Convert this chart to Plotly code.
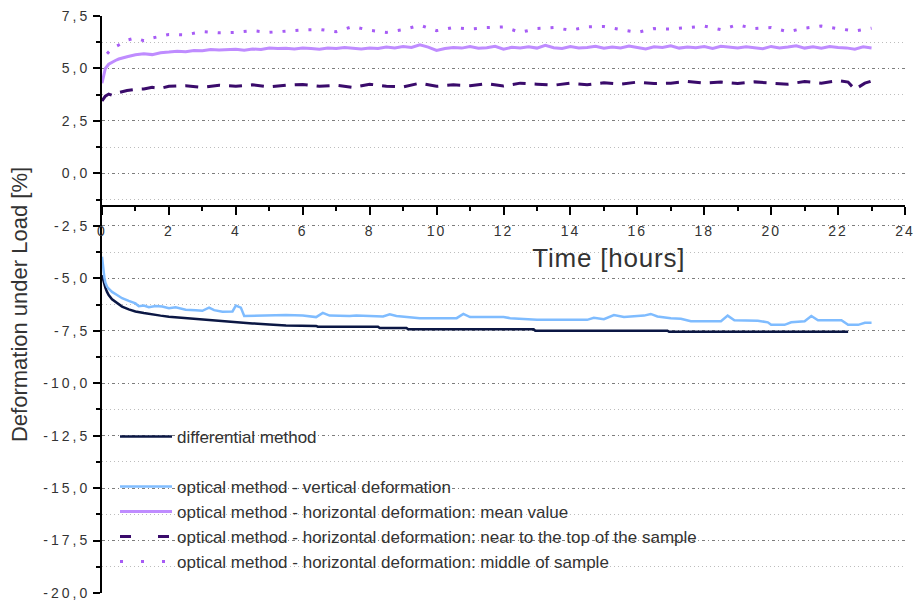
import plotly.graph_objects as go

# ---------------------------------------------------------------- data
# differential method (staircase-like record)
T_DIFF = [0, 0.05, 0.1, 0.15, 0.2, 0.3, 0.4, 0.5, 0.6, 0.8, 1.0, 1.25, 1.5, 1.75,
          2.0, 2.5, 3.0, 3.5, 4.0, 4.5, 5.0, 5.5, 6.4, 6.45, 8.25, 8.3, 9.1, 9.15,
          12.9, 12.95, 16.9, 16.95, 22.3]
DIFF = [-4.85, -5.2, -5.45, -5.65, -5.8, -6.0, -6.12, -6.25, -6.35, -6.48, -6.58,
        -6.66, -6.73, -6.78, -6.83, -6.9, -6.97, -7.03, -7.1, -7.15, -7.2, -7.25,
        -7.27, -7.31, -7.31, -7.37, -7.37, -7.43, -7.43, -7.5, -7.5, -7.55, -7.55]

# optical method - vertical deformation
T_VERT = [0, 0.03, 0.07, 0.1, 0.15, 0.2, 0.3, 0.45, 0.6, 0.8, 1.0, 1.1, 1.25, 1.4,
          1.6, 1.8, 2.0, 2.2, 2.5, 2.8, 3.0, 3.2, 3.35, 3.6, 3.9, 4.0, 4.15, 4.25,
          5.0, 5.5, 6.0, 6.4, 6.6, 6.8, 7.4, 7.6, 8.4, 8.6, 8.8, 9.3, 9.5, 10.6,
          10.8, 11.0, 12.0, 12.2, 13.0, 14.5, 14.7, 15.0, 15.3, 15.6, 16.2, 16.4,
          16.6, 17.0, 17.3, 17.6, 18.0, 18.5, 18.7, 18.9, 19.6, 19.9, 20.0, 20.4,
          20.6, 21.0, 21.2, 21.4, 21.9, 22.1, 22.3, 22.6, 22.8, 23.0]
VERT = [-3.97, -4.5, -4.95, -5.2, -5.4, -5.5, -5.65, -5.8, -5.95, -6.08, -6.2,
        -6.33, -6.3, -6.38, -6.32, -6.35, -6.43, -6.38, -6.5, -6.52, -6.55, -6.4,
        -6.52, -6.6, -6.58, -6.3, -6.4, -6.8, -6.78, -6.75, -6.78, -6.85, -6.65,
        -6.78, -6.8, -6.77, -6.82, -6.72, -6.8, -6.85, -6.9, -6.9, -6.7, -6.85,
        -6.85, -6.9, -6.98, -6.98, -6.88, -6.95, -6.75, -6.85, -6.78, -6.7, -6.82,
        -6.9, -6.93, -7.05, -7.05, -7.05, -6.78, -7.0, -7.02, -7.1, -7.22, -7.22,
        -7.1, -7.05, -6.8, -7.0, -7.0, -7.0, -7.22, -7.22, -7.12, -7.12]

# optical method - horizontal deformation: mean value
T_MEAN = [0, 0.05, 0.1, 0.2, 0.3, 0.4, 0.5, 0.6, 0.75,
          1.0, 1.25, 1.5, 1.75, 2.0, 2.25, 2.5, 2.75, 3.0, 3.25, 3.5, 3.75,
          4.0, 4.25, 4.5, 4.75, 5.0, 5.25, 5.5, 5.75, 6.0, 6.25, 6.5, 6.75,
          7.0, 7.25, 7.5, 7.75, 8.0, 8.25, 8.5, 8.75, 9.0, 9.25, 9.5, 9.75,
          10.0, 10.25, 10.5, 10.75, 11.0, 11.25, 11.5, 11.75, 12.0, 12.25, 12.5, 12.75,
          13.0, 13.25, 13.5, 13.75, 14.0, 14.25, 14.5, 14.75, 15.0, 15.25, 15.5, 15.75,
          16.0, 16.25, 16.5, 16.75, 17.0, 17.25, 17.5, 17.75, 18.0, 18.25, 18.5, 18.75,
          19.0, 19.25, 19.5, 19.75, 20.0, 20.25, 20.5, 20.75, 21.0, 21.25, 21.5, 21.75,
          22.0, 22.25, 22.5, 22.75, 23.0]
MEAN = [4.3, 4.75, 5.0, 5.2, 5.3, 5.38, 5.45, 5.5, 5.56,
        5.65, 5.7, 5.66, 5.75, 5.78, 5.82, 5.8, 5.86, 5.84, 5.9, 5.88, 5.9,
        5.92, 5.87, 5.93, 5.9, 5.97, 5.95, 5.96, 5.93, 5.98, 5.95, 5.92, 5.97,
        5.95, 6.0, 5.96, 5.93, 5.98, 5.95, 6.02, 5.98, 6.04, 6.0, 6.13, 6.02,
        5.86, 5.95, 6.0, 5.97, 6.05, 5.96, 5.99, 6.06, 5.92, 6.01, 5.98, 6.03,
        5.97, 6.1, 5.99, 5.95, 6.04, 5.98, 6.0, 6.06, 5.96, 6.02, 5.98, 6.07,
        6.0, 5.93, 6.03, 6.0, 6.08, 5.97, 6.02, 5.99, 6.04, 5.95, 6.06, 6.0,
        5.97, 6.03, 6.0, 5.94, 6.05, 5.98, 6.02, 6.08, 5.97, 6.03, 5.96, 6.04,
        6.0, 5.98, 5.92, 6.03, 5.98]

# optical method - horizontal deformation: near to the top of the sample
T_TOP = [0, 0.05, 0.1, 0.2, 0.3, 0.5, 0.75, 1.0, 1.25, 1.5, 1.75,
         2.0, 2.5, 3.0, 3.5, 4.0, 4.5, 5.0, 5.5, 6.0, 6.5, 7.0, 7.5, 8.0, 8.5,
         9.0, 9.5, 10.0, 10.5, 11.0, 11.5, 12.0, 12.5, 13.0, 13.5, 14.0, 14.5,
         15.0, 15.5, 16.0, 16.5, 17.0, 17.5, 18.0, 18.5, 19.0, 19.5, 20.0, 20.5,
         21.0, 21.5, 22.0, 22.3, 22.5, 22.8, 23.0]
TOP = [3.45, 3.55, 3.68, 3.78, 3.72, 3.85, 3.95, 4.0, 4.02, 4.1, 4.05,
       4.15, 4.18, 4.1, 4.2, 4.15, 4.22, 4.12, 4.2, 4.24, 4.15, 4.2, 4.1, 4.25, 4.15,
       4.12, 4.3, 4.15, 4.22, 4.18, 4.28, 4.16, 4.3, 4.25, 4.2, 4.3, 4.22,
       4.32, 4.25, 4.35, 4.28, 4.3, 4.38, 4.3, 4.35, 4.28, 4.36, 4.3, 4.25,
       4.38, 4.3, 4.42, 4.35, 4.0, 4.3, 4.4]

# optical method - horizontal deformation: middle of sample
T_MID = [0.15, 0.3, 0.5, 0.75, 1.0, 1.25, 1.5, 2.0, 2.5, 3.0, 3.5, 4.0, 4.5,
         5.0, 5.5, 6.0, 6.5, 7.0, 7.5, 8.0, 8.5, 9.0, 9.5, 10.0, 10.5, 11.0,
         11.5, 12.0, 12.5, 13.0, 13.5, 14.0, 14.5, 15.0, 15.5, 16.0, 16.5, 17.0,
         17.5, 18.0, 18.5, 19.0, 19.5, 20.0, 20.5, 21.0, 21.5, 22.0, 22.5, 23.0]
MID = [5.7, 5.95, 6.12, 6.35, 6.45, 6.32, 6.45, 6.62, 6.6, 6.76, 6.7, 6.72, 6.8,
       6.72, 6.78, 6.84, 6.86, 6.75, 7.0, 6.82, 6.72, 6.85, 7.06, 6.8, 6.95, 6.88,
       6.95, 6.98, 6.72, 6.9, 6.95, 6.82, 6.98, 7.0, 6.85, 6.72, 6.9, 6.88,
       6.95, 7.02, 6.85, 7.08, 6.9, 6.95, 6.75, 6.92, 7.02, 6.9, 6.78, 6.92]

NAMES = ["differential method",
         "optical method - vertical deformation",
         "optical method - horizontal deformation: mean value",
         "optical method - horizontal deformation: near to the top of the sample",
         "optical method - horizontal deformation: middle of sample"]

# axis ticks
X_TICKS = [0, 2, 4, 6, 8, 10, 12, 14, 16, 18, 20, 22, 24]
X_TICK_LABELS = ["0", "2", "4", "6", "8", "10", "12", "14", "16", "18", "20", "22", "24"]
Y_TICKS = [7.5, 5.0, 2.5, 0.0, -2.5, -5.0, -7.5, -10.0, -12.5, -15.0, -17.5, -20.0]
Y_TICK_LABELS = ["7,5", "5,0", "2,5", "0,0", "-2,5", "-5,0", "-7,5", "-10,0",
                 "-12,5", "-15,0", "-17,5", "-20,0"]

# ---------------------------------------------------------------- style
NAVY = "#0b1744"
SKY = "#7fbcff"
LAVENDER = "#bf8cff"
PLUM = "#3a0b6b"
VIOLET = "#a75cf5"
TEXT = "#333333"
FONT = "Arial, Liberation Sans, sans-serif"

Y_RANGE = [-20, 7.5]
X_AXIS_AT = -1.56          # value on the y scale where the time axis crosses

# legend rows: vertical centre of each entry, in paper units
LEGEND_ROWS = [0.2704, 0.1837, 0.1404, 0.0971, 0.0537]
LEGEND_X = 0.0162

fig = go.Figure()

fig.add_trace(go.Scatter(x=T_DIFF, y=DIFF, mode="lines", name=NAMES[0],
                         line=dict(color=NAVY, width=2.5), legend="legend"))
fig.add_trace(go.Scatter(x=T_VERT, y=VERT, mode="lines", name=NAMES[1],
                         line=dict(color=SKY, width=2.5), legend="legend2"))
fig.add_trace(go.Scatter(x=T_MEAN, y=MEAN, mode="lines", name=NAMES[2],
                         line=dict(color=LAVENDER, width=3), legend="legend3"))

# dashed / dotted records: drawn with a short pattern, listed with a wider one
fig.add_trace(go.Scatter(x=T_TOP, y=TOP, mode="lines", name=NAMES[3],
                         line=dict(color=PLUM, width=3, dash="13px,9px"),
                         showlegend=False))
fig.add_trace(go.Scatter(x=[None], y=[None], mode="lines", name=NAMES[3],
                         line=dict(color=PLUM, width=3, dash="11px,27px"),
                         legend="legend4"))
fig.add_trace(go.Scatter(x=T_MID, y=MID, mode="lines", name=NAMES[4],
                         line=dict(color=VIOLET, width=3, dash="3px,10px"),
                         showlegend=False))
fig.add_trace(go.Scatter(x=[None], y=[None], mode="lines", name=NAMES[4],
                         line=dict(color=VIOLET, width=3, dash="3px,18px"),
                         legend="legend5"))

x_axis_pos = (X_AXIS_AT - Y_RANGE[0]) / (Y_RANGE[1] - Y_RANGE[0])
x_minor = [t + 1 for t in X_TICKS[:-1]]
y_minor = [v - 1.25 for v in Y_TICKS[:-1]]

legend_style = dict(font=dict(family=FONT, size=17, color=TEXT),
                    bgcolor="rgba(0,0,0,0)", borderwidth=0,
                    xanchor="left", yanchor="middle", itemwidth=52,
                    traceorder="normal")
legends = {}
for i, row in enumerate(LEGEND_ROWS):
    key = "legend" if i == 0 else f"legend{i + 1}"
    legends[key] = dict(x=LEGEND_X, y=row, **legend_style)

fig.update_layout(
    width=913, height=600,
    margin=dict(l=102, r=8, t=16, b=7),
    paper_bgcolor="white", plot_bgcolor="white",
    font=dict(family=FONT, color=TEXT),
    showlegend=True,
    xaxis=dict(
        range=[0, 24], anchor="free", position=x_axis_pos, automargin=False,
        showline=True, linecolor="black", linewidth=2,
        tickmode="array", tickvals=X_TICKS, ticktext=X_TICK_LABELS,
        ticks="outside", ticklen=8, tickwidth=1.5, tickcolor="black",
        ticklabelstandoff=4, ticklabeloverflow="allow",
        tickfont=dict(family=FONT, size=14, color=TEXT),
        minor=dict(tickvals=x_minor, ticks="outside", ticklen=4,
                   tickwidth=1.5, tickcolor="black", showgrid=False),
        showgrid=False, zeroline=False,
    ),
    yaxis=dict(
        range=Y_RANGE, automargin=False,
        showline=True, linecolor="black", linewidth=2,
        tickmode="array", tickvals=Y_TICKS, ticktext=Y_TICK_LABELS,
        ticks="outside", ticklen=7, tickwidth=1.5, tickcolor="black",
        ticklabeloverflow="allow",
        tickfont=dict(family=FONT, size=14, color=TEXT),
        showgrid=True, gridcolor="#7d7d7d", gridwidth=1,
        griddash="3px,3px,1px,3px",
        minor=dict(tickvals=y_minor, ticks="outside", ticklen=4,
                   tickwidth=1.5, tickcolor="black",
                   showgrid=True, gridcolor="#bdbdbd", gridwidth=1,
                   griddash="1px,3px"),
        zeroline=False,
        title=dict(text="Deformation under Load [%]",
                   font=dict(family=FONT, size=22, color=TEXT), standoff=25),
    ),
    annotations=[dict(text="Time [hours]", xref="paper", yref="paper",
                      x=0.6314, y=0.5806, xanchor="center", yanchor="middle",
                      showarrow=False,
                      font=dict(family=FONT, size=26, color=TEXT))],
    **legends,
)

# widen the character spacing of the axis numbers and the time caption
SPACING_CSS = """
var st = document.createElement('style');
st.textContent = '.ytick text{letter-spacing:3px}' +
                 ' .xtick text{letter-spacing:2px}' +
                 ' .annotation-text{letter-spacing:0.8px}';
document.head.appendChild(st);
"""

fig.write_html("out.html", post_script=SPACING_CSS)
